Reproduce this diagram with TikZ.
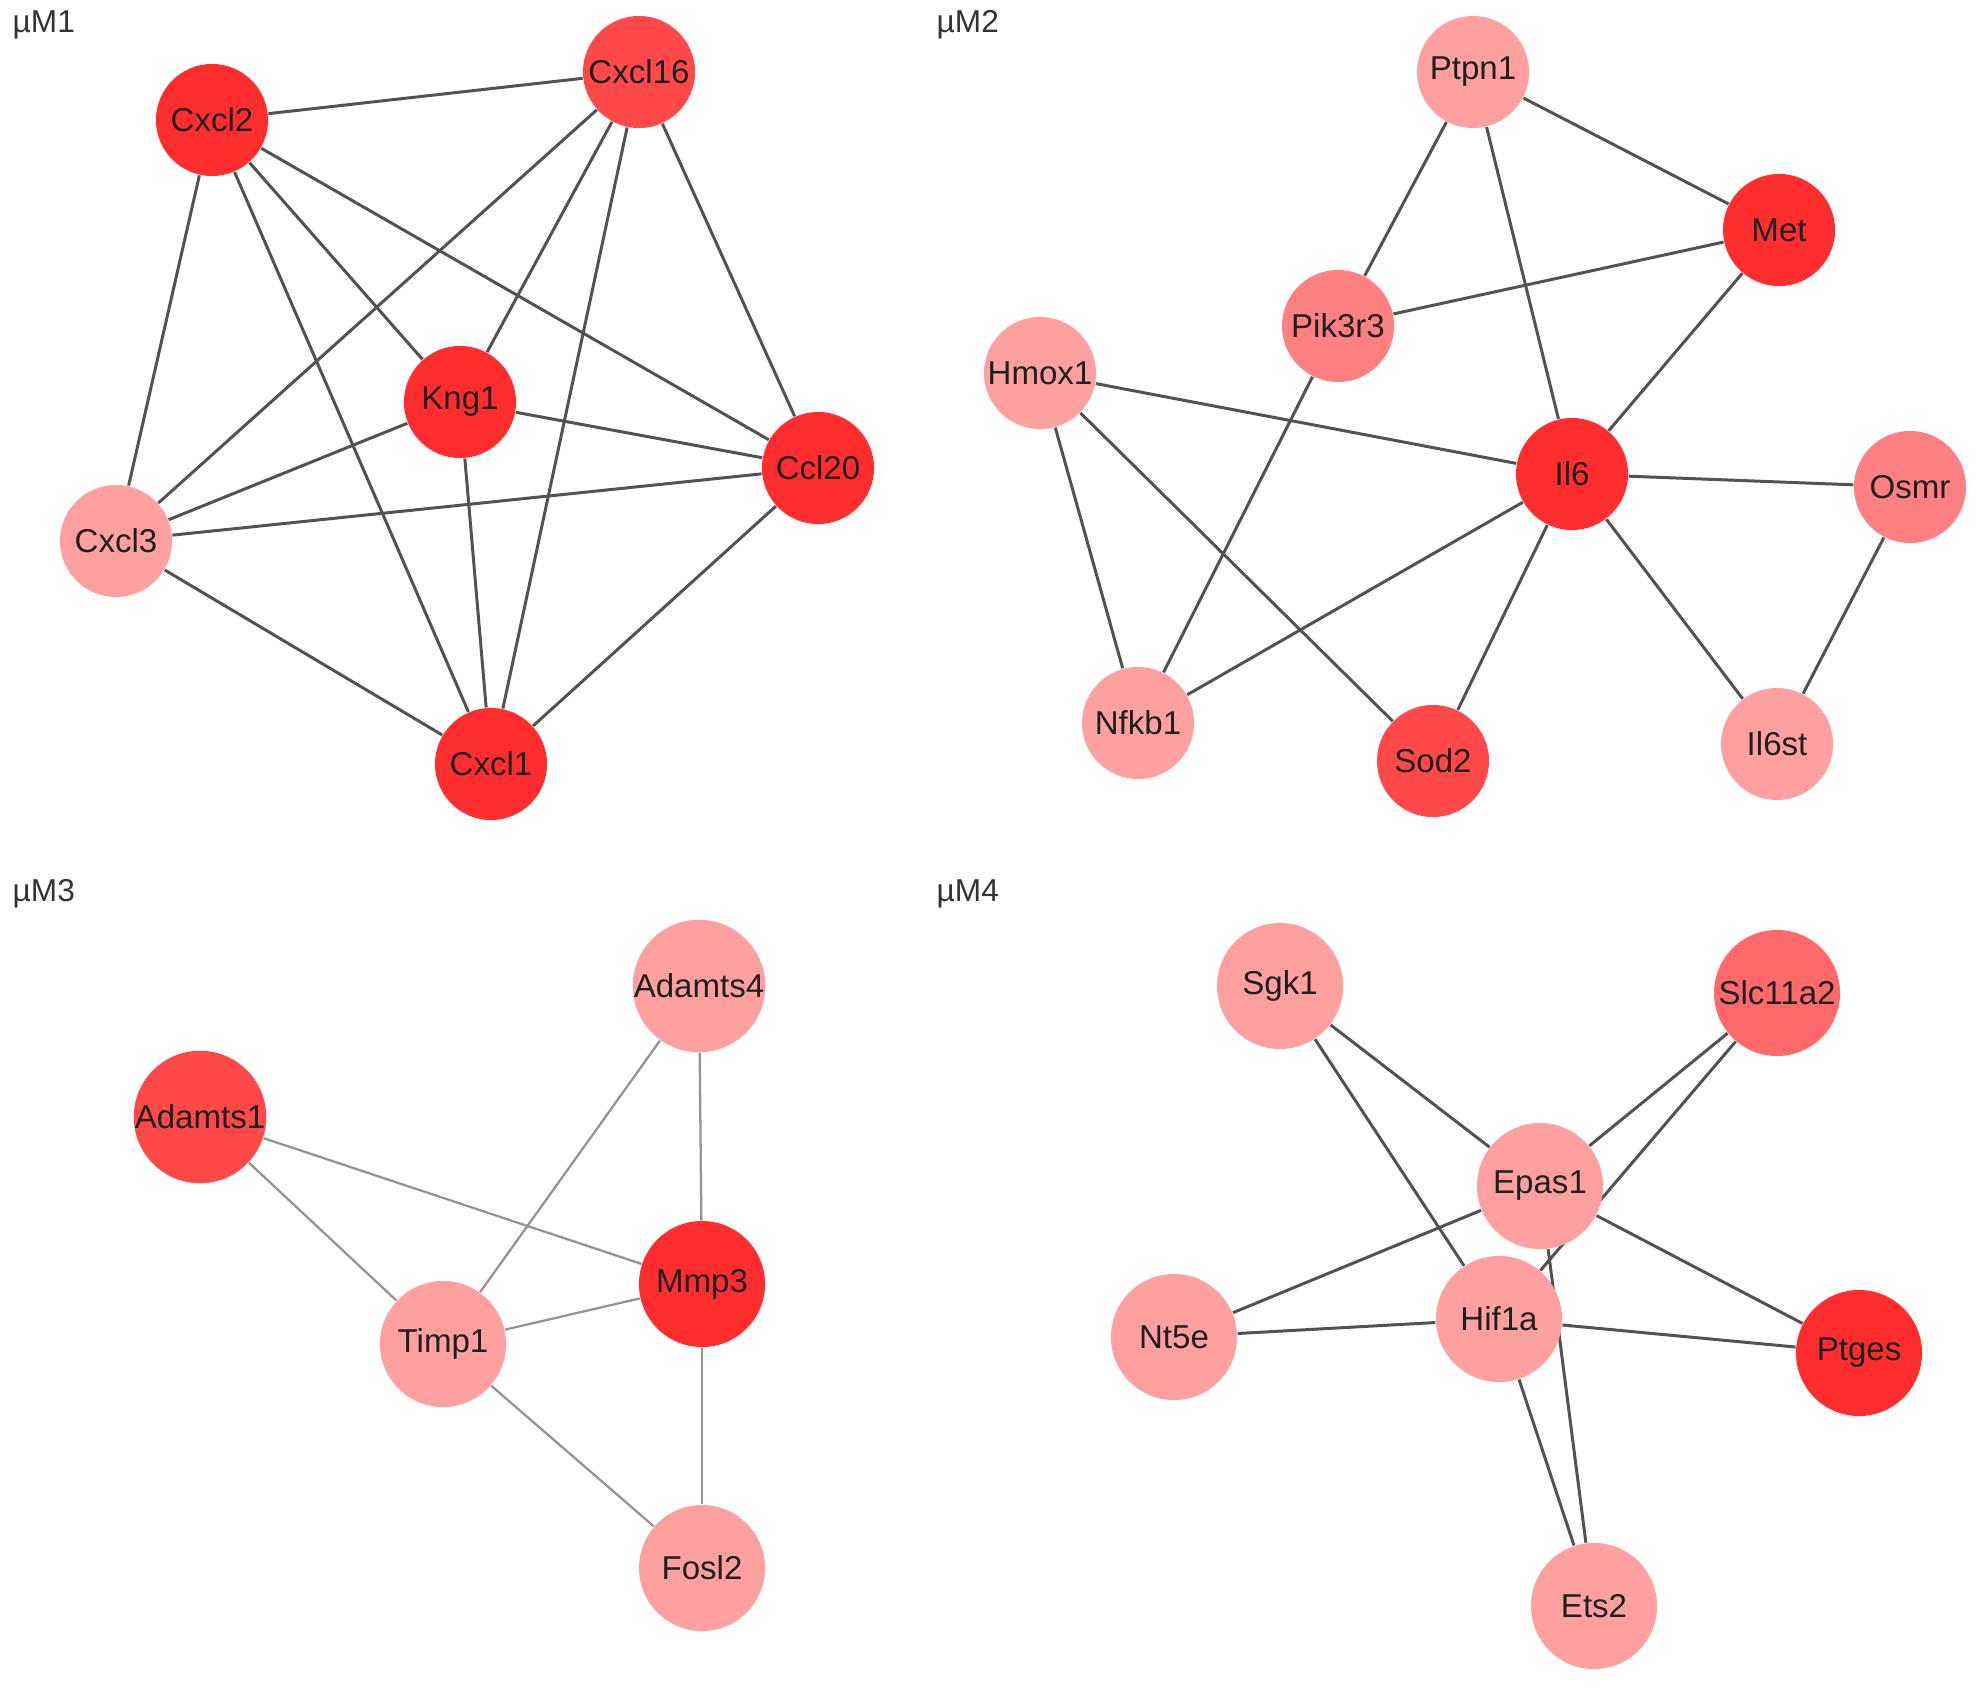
\documentclass[tikz,border=0pt]{standalone}
\usepackage{fontspec}
\setmainfont{Liberation Sans}
\usetikzlibrary{backgrounds}
\definecolor{hot}{RGB}{255,45,45}
\definecolor{warm}{RGB}{255,72,72}
\definecolor{mid}{RGB}{255,105,105}
\definecolor{soft}{RGB}{255,128,128}
\definecolor{pale}{RGB}{255,160,160}

\begin{document}
\begin{tikzpicture}[x=0.01cm, y=-0.01cm,
    gene/.style={circle, draw=none, inner sep=0pt, minimum size=1.12cm,
      font=\fontsize{9.4}{11}\selectfont, text=black!88},
    big/.style={minimum size=1.26cm},
    panel/.style={anchor=west, inner sep=0pt, font=\fontsize{9}{11}\selectfont, text=black!80},
    link/.style={draw=black!68, line width=0.85pt},
    faint/.style={draw=black!42, line width=0.65pt}]
  \useasboundingbox (0,0) rectangle (1983,1688);

  \node [panel] (lbl-m1) at (12,25) {µM1};
  \node [panel] (lbl-m2) at (936,25) {µM2};
  \node [panel] (lbl-m3) at (12,894) {µM3};
  \node [panel] (lbl-m4) at (936,894) {µM4};

  \node [gene, fill=hot] (cxcl2) at (212,120) {Cxcl2};
  \node [gene, fill=warm] (cxcl16) at (639,72) {Cxcl16};
  \node [gene, fill=hot] (kng1) at (460,402) {Kng1};
  \node [gene, fill=hot] (ccl20) at (818,468) {Ccl20};
  \node [gene, fill=pale] (cxcl3) at (116,541) {Cxcl3};
  \node [gene, fill=hot] (cxcl1) at (491,764) {Cxcl1};

  \node [gene, fill=pale] (ptpn1) at (1473,72) {Ptpn1};
  \node [gene, fill=hot] (met) at (1779,230) {Met};
  \node [gene, fill=soft] (pik3r3) at (1338,326) {Pik3r3};
  \node [gene, fill=pale] (hmox1) at (1040,373) {Hmox1};
  \node [gene, fill=hot] (il6) at (1572,474) {Il6};
  \node [gene, fill=soft] (osmr) at (1910,487) {Osmr};
  \node [gene, fill=pale] (nfkb1) at (1138,723) {Nfkb1};
  \node [gene, fill=warm] (sod2) at (1433,761) {Sod2};
  \node [gene, fill=pale] (il6st) at (1777,744) {Il6st};

  \node [gene, big, fill=pale] (adamts4) at (699,986) {Adamts4};
  \node [gene, big, fill=warm] (adamts1) at (200,1117) {Adamts1};
  \node [gene, big, fill=hot] (mmp3) at (702,1284) {Mmp3};
  \node [gene, big, fill=pale] (timp1) at (443,1344) {Timp1};
  \node [gene, big, fill=pale] (fosl2) at (702,1568) {Fosl2};

  \node [gene, big, fill=pale] (sgk1) at (1280,986) {Sgk1};
  \node [gene, big, fill=mid] (slc11a2) at (1777,993) {Slc11a2};
  \node [gene, big, fill=pale] (epas1) at (1540,1186) {Epas1};
  \node [gene, big, fill=pale] (nt5e) at (1174,1337) {Nt5e};
  \node [gene, big, fill=pale] (hif1a) at (1499,1319) {Hif1a};
  \node [gene, big, fill=hot] (ptges) at (1859,1353) {Ptges};
  \node [gene, big, fill=pale] (ets2) at (1594,1606) {Ets2};

  \begin{scope}[on background layer]
    \fill [white] (0,0) rectangle (1983,1688);
    \draw [link] (cxcl2) -- (cxcl16);
    \draw [link] (cxcl2) -- (cxcl3);
    \draw [link] (cxcl2) -- (kng1);
    \draw [link] (cxcl2) -- (ccl20);
    \draw [link] (cxcl2) -- (cxcl1);
    \draw [link] (cxcl16) -- (cxcl3);
    \draw [link] (cxcl16) -- (kng1);
    \draw [link] (cxcl16) -- (cxcl1);
    \draw [link] (cxcl16) -- (ccl20);
    \draw [link] (kng1) -- (cxcl3);
    \draw [link] (kng1) -- (ccl20);
    \draw [link] (kng1) -- (cxcl1);
    \draw [link] (cxcl3) -- (ccl20);
    \draw [link] (cxcl3) -- (cxcl1);
    \draw [link] (ccl20) -- (cxcl1);

    \draw [link] (ptpn1) -- (met);
    \draw [link] (ptpn1) -- (pik3r3);
    \draw [link] (ptpn1) -- (il6);
    \draw [link] (met) -- (pik3r3);
    \draw [link] (met) -- (il6);
    \draw [link] (hmox1) -- (il6);
    \draw [link] (hmox1) -- (nfkb1);
    \draw [link] (hmox1) -- (sod2);
    \draw [link] (pik3r3) -- (nfkb1);
    \draw [link] (il6) -- (nfkb1);
    \draw [link] (il6) -- (sod2);
    \draw [link] (il6) -- (osmr);
    \draw [link] (il6) -- (il6st);
    \draw [link] (osmr) -- (il6st);

    \draw [faint] (adamts1) -- (mmp3);
    \draw [faint] (adamts1) -- (timp1);
    \draw [faint] (adamts4) -- (timp1);
    \draw [faint] (adamts4) -- (mmp3);
    \draw [faint] (timp1) -- (mmp3);
    \draw [faint] (timp1) -- (fosl2);
    \draw [faint] (mmp3) -- (fosl2);

    \draw [link] (sgk1) -- (epas1);
    \draw [link] (sgk1) -- (hif1a);
    \draw [link] (slc11a2) -- (epas1);
    \draw [link] (slc11a2) -- (hif1a);
    \draw [link] (epas1) -- (nt5e);
    \draw [link] (epas1) -- (ptges);
    \draw [link] (epas1) -- (ets2);
    \draw [link] (nt5e) -- (hif1a);
    \draw [link] (hif1a) -- (ptges);
    \draw [link] (hif1a) -- (ets2);
  \end{scope}
\end{tikzpicture}
\end{document}
